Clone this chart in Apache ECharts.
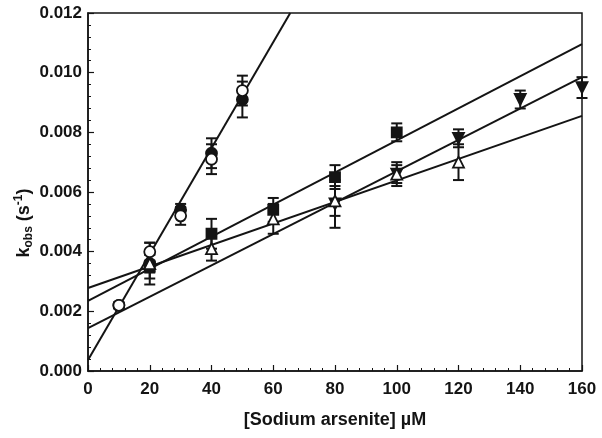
<!DOCTYPE html>
<html><head><meta charset="utf-8">
<script src="https://cdn.jsdelivr.net/npm/echarts@6/dist/echarts.min.js"></script>
<style>html,body{margin:0;padding:0;background:#fff}#c{width:602px;height:438px}</style>
</head><body><div id="c"></div>
<script>
// x tick labels
const xTicks = [0, 20, 40, 60, 80, 100, 120, 140, 160];
const yTicks = ['0.000','0.002','0.004','0.006','0.008','0.010','0.012'];

// Filled circles
const concFilledCircle = [10, 20, 30, 40, 50];
const kFilledCircle    = [0.0022, 0.0036, 0.0054, 0.0073, 0.0091];
const errFilledCircle  = [0.0001, 0.0003, 0.0002, 0.0005, 0.0006];
// Open circles
const concOpenCircle = [10, 20, 30, 40, 50];
const kOpenCircle    = [0.0022, 0.0040, 0.0052, 0.0071, 0.0094];
const errOpenCircle  = [0.0001, 0.0003, 0.0003, 0.0005, 0.0005];
// Filled squares
const concSquare = [20, 40, 60, 80, 100];
const kSquare    = [0.0035, 0.0046, 0.0054, 0.0065, 0.0080];
const errSquare  = [0.0004, 0.0005, 0.0004, 0.0004, 0.0003];
// Open triangles
const concTriangle = [20, 40, 60, 80, 100, 120];
const kTriangle    = [0.0036, 0.0041, 0.0051, 0.0057, 0.0066, 0.0070];
const errTriangle  = [0.0007, 0.0004, 0.0005, 0.0005, 0.0003, 0.0006];
// Filled inverted triangles
const concInvTriangle = [80, 100, 120, 140, 160];
const kInvTriangle    = [0.0056, 0.0066, 0.0078, 0.0091, 0.0095];
const errInvTriangle  = [0.0008, 0.0004, 0.0003, 0.0003, 0.00035];

// Fitted lines (endpoints)
const fitCircles     = [[0, 0.00037], [65.5, 0.012]];
const fitTriangle    = [[0, 0.00278], [160, 0.00855]];
const fitSquare      = [[0, 0.00235], [160, 0.01096]];
const fitInvTriangle = [[0, 0.00144], [160, 0.00985]];

const INK = '#141414';
function pts(xs, ys){ return xs.map((x,i)=>[x, ys[i]]); }
function errPts(xs, ys, es){ return xs.map((x,i)=>[x, ys[i], es[i]]); }

function errSeries(xs, ys, es){
  return {
    type:'custom', silent:true, z:3,
    data: errPts(xs, ys, es),
    encode:{x:0, y:1},
    renderItem: function(params, api){
      const x = api.value(0), y = api.value(1), e = api.value(2);
      const t = api.coord([x, y+e]), b = api.coord([x, y-e]);
      const hw = 5.5;
      const st = {stroke: INK, lineWidth: 2};
      return {type:'group', children:[
        {type:'line', shape:{x1:t[0], y1:t[1], x2:b[0], y2:b[1]}, style:st},
        {type:'line', shape:{x1:t[0]-hw, y1:t[1], x2:t[0]+hw, y2:t[1]}, style:st},
        {type:'line', shape:{x1:b[0]-hw, y1:b[1], x2:b[0]+hw, y2:b[1]}, style:st}
      ]};
    }
  };
}
function fitSeries(d){
  return {type:'line', data:d, symbol:'none', silent:true, z:2,
    lineStyle:{color:INK, width:2}, animation:false};
}
function scat(xs, ys, symbol, filled, size, rot){
  return {type:'scatter', data:pts(xs, ys), symbol:symbol, symbolSize:size, symbolRotate:rot||0, z:4,
    itemStyle:{color: filled ? INK : '#ffffff', borderColor: INK, borderWidth: 1.8, opacity:1}};
}

const chart = echarts.init(document.getElementById('c'), null, {renderer:'canvas'});
chart.setOption({
  animation:false,
  backgroundColor:'#ffffff',
  grid:{left:88, right:20, top:13, bottom:67, show:true, borderColor:INK, borderWidth:1.5},
  xAxis:{
    type:'value', min:0, max:160, interval:20,
    axisLine:{show:true, lineStyle:{color:INK, width:1.5}},
    axisTick:{show:true, inside:true, length:6, lineStyle:{color:INK, width:1.2}},
    minorTick:{show:true, splitNumber:5, length:3, lineStyle:{color:INK, width:1}},
    splitLine:{show:false},
    axisLabel:{color:INK, fontFamily:'Liberation Sans, Arial, sans-serif', fontWeight:'bold', fontSize:17, margin:10,
      formatter: v => String(xTicks[xTicks.indexOf(v)])},
    name:'[Sodium arsenite] µM', nameLocation:'middle', nameGap:40,
    nameTextStyle:{color:INK, fontFamily:'Liberation Sans, Arial, sans-serif', fontWeight:'bold', fontSize:18}
  },
  yAxis:{
    type:'value', min:0, max:0.012, interval:0.002,
    axisLine:{show:true, lineStyle:{color:INK, width:1.5}},
    axisTick:{show:true, inside:true, length:6, lineStyle:{color:INK, width:1.2}},
    minorTick:{show:true, splitNumber:5, length:3, lineStyle:{color:INK, width:1}},
    splitLine:{show:false},
    axisLabel:{color:INK, fontFamily:'Liberation Sans, Arial, sans-serif', fontWeight:'bold', fontSize:17, margin:6,
      formatter: v => yTicks[Math.round(v/0.002)]}
  },
  graphic:[{
    type:'text', x:24, y:223, rotation:Math.PI/2,
    style:{
      text:'{k|k}{sub|obs}{k| (s}{sup|-1}{k|)}',
      align:'center', verticalAlign:'middle', fill:INK,
      rich:{
        k:{fontFamily:'Liberation Sans, Arial, sans-serif', fontWeight:'bold', fontSize:18, lineHeight:22, fill:INK},
        sub:{fontFamily:'Liberation Sans, Arial, sans-serif', fontWeight:'bold', fontSize:12, lineHeight:22, verticalAlign:'bottom', fill:INK},
        sup:{fontFamily:'Liberation Sans, Arial, sans-serif', fontWeight:'bold', fontSize:12, lineHeight:22, verticalAlign:'top', fill:INK}
      }
    }
  }],
  series:[
    fitSeries(fitCircles), fitSeries(fitTriangle), fitSeries(fitSquare), fitSeries(fitInvTriangle),
    errSeries(concFilledCircle, kFilledCircle, errFilledCircle),
    errSeries(concOpenCircle, kOpenCircle, errOpenCircle),
    errSeries(concSquare, kSquare, errSquare),
    errSeries(concTriangle, kTriangle, errTriangle),
    errSeries(concInvTriangle, kInvTriangle, errInvTriangle),
    scat(concFilledCircle, kFilledCircle, 'circle', true, 11),
    scat(concSquare, kSquare, 'rect', true, 10),
    scat(concInvTriangle, kInvTriangle, 'triangle', true, 11, 180),
    scat(concTriangle, kTriangle, 'triangle', false, 11),
    scat(concOpenCircle, kOpenCircle, 'circle', false, 11)
  ]
});
</script></body></html>
